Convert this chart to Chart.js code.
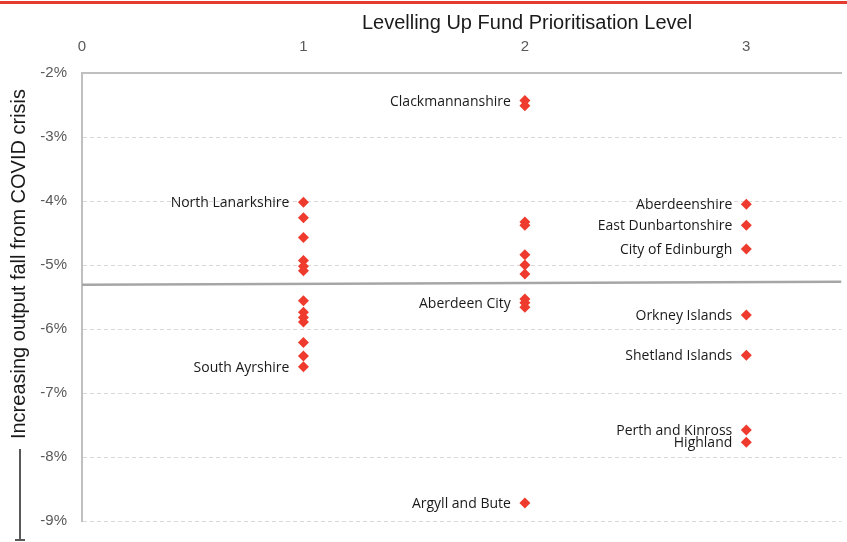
<!DOCTYPE html>
<html>
<head>
<meta charset="utf-8">
<script src="https://cdn.jsdelivr.net/npm/chart.js@4.4.0/dist/chart.umd.min.js"></script>
<style>
  html, body { margin: 0; padding: 0; background: #fff; }
  #wrap { width: 847px; height: 542px; position: relative; }
</style>
</head>
<body>
<div id="wrap"><canvas id="chart"></canvas></div>
<script>
const X_TITLE = "Levelling Up Fund Prioritisation Level";
const Y_TITLE = "Increasing output fall from COVID crisis";

// output fall (%) by prioritisation level
const level1 = [-4.02, -4.26, -4.57, -4.93, -5.02, -5.09, -5.56, -5.74, -5.82, -5.89, -6.21, -6.42, -6.59];
const level1Names = ["North Lanarkshire", "", "", "", "", "", "", "", "", "", "", "", "South Ayrshire"];

const level2 = [-2.43, -2.51, -4.33, -4.38, -4.84, -5.00, -5.14, -5.53, -5.59, -5.66, -8.72];
const level2Names = ["Clackmannanshire", "", "", "", "", "", "", "", "Aberdeen City", "", "Argyll and Bute"];

const level3 = [-4.05, -4.38, -4.75, -5.78, -6.41, -7.58, -7.77];
const level3Names = ["Aberdeenshire", "East Dunbartonshire", "City of Edinburgh", "Orkney Islands",
  "Shetland Islands", "Perth and Kinross", "Highland"];

const xTicks = [0, 1, 2, 3];
const trendX = [0, 3.43];
const trendY = [-5.31, -5.26];

const RED = "#ee3b2d";
const TICK_FONT = { family: "'Liberation Sans Narrow', 'Liberation Sans', sans-serif", size: 15 };

function toPoints(level, vals, names) {
  return vals.map((v, i) => ({ x: level, y: v, name: names[i] }));
}

const points = [
  ...toPoints(1, level1, level1Names),
  ...toPoints(2, level2, level2Names),
  ...toPoints(3, level3, level3Names),
];

const extras = {
  id: "extras",
  afterDatasetsDraw(chart) {
    const { ctx } = chart;
    const meta = chart.getDatasetMeta(1);
    ctx.save();
    ctx.font = "14px 'Open Sans', sans-serif";
    ctx.fillStyle = "#1a1a1a";
    ctx.textAlign = "right";
    ctx.textBaseline = "middle";
    meta.data.forEach((el, i) => {
      const name = points[i].name;
      if (name) ctx.fillText(name, el.x - 14, el.y + 1);
    });
    ctx.restore();
  },
  afterDraw(chart) {
    const { ctx } = chart;
    ctx.save();
    // red rule at the very top
    ctx.fillStyle = "#e53a2e";
    ctx.fillRect(0, 1, chart.width, 3);

    // axis titles
    ctx.fillStyle = "#1a1a1a";
    ctx.font = "20px 'Liberation Sans', Arial, sans-serif";
    ctx.textAlign = "center";
    ctx.textBaseline = "middle";
    ctx.fillText(X_TITLE, 527, 23);

    ctx.translate(19, 264);
    ctx.rotate(-Math.PI / 2);
    ctx.fillText(Y_TITLE, 0, 0);
    ctx.restore();

    // arrow line under the y title
    ctx.save();
    ctx.strokeStyle = "#595959";
    ctx.lineWidth = 2;
    ctx.beginPath();
    ctx.moveTo(20, 449);
    ctx.lineTo(20, 540);
    ctx.moveTo(15, 540);
    ctx.lineTo(25, 540);
    ctx.stroke();
    ctx.restore();
  },
};

new Chart(document.getElementById("chart"), {
  type: "scatter",
  data: {
    datasets: [
      {
        type: "line",
        label: "Trend",
        data: trendX.map((x, i) => ({ x, y: trendY[i] })),
        borderColor: "#a6a6a6",
        borderWidth: 2.5,
        pointRadius: 0,
        fill: false,
      },
      {
        label: "Local authorities",
        data: points,
        pointStyle: "rectRot",
        pointRadius: 5.5,
        pointHoverRadius: 5.5,
        backgroundColor: RED,
        borderColor: RED,
        borderWidth: 0,
      },
    ],
  },
  plugins: [extras],
  options: {
    animation: false,
    responsive: true,
    maintainAspectRatio: false,
    layout: { padding: 0 },
    plugins: {
      legend: { display: false },
      tooltip: { enabled: false },
    },
    scales: {
      x: {
        type: "linear",
        position: "top",
        min: 0,
        max: 3.43,
        afterBuildTicks: (scale) => {
          scale.ticks = xTicks.map((v) => ({ value: v }));
        },
        afterFit: (scale) => { scale.height = 73; },
        grid: { display: false, drawTicks: false },
        border: { display: true, color: "#bfbfbf", width: 2 },
        ticks: { padding: 17, color: "#595959", font: TICK_FONT },
      },
      y: {
        min: -9,
        max: -2,
        afterFit: (scale) => {
          scale.width = 82;
          scale.paddingBottom = 21;
        },
        grid: { color: "#d9d9d9", lineWidth: 1, drawTicks: false },
        border: { display: true, color: "#bfbfbf", width: 2, dash: [4, 3] },
        ticks: {
          stepSize: 1,
          padding: 15,
          color: "#595959",
          font: TICK_FONT,
          callback: (v) => v + "%",
        },
      },
    },
  },
});
</script>
</body>
</html>
